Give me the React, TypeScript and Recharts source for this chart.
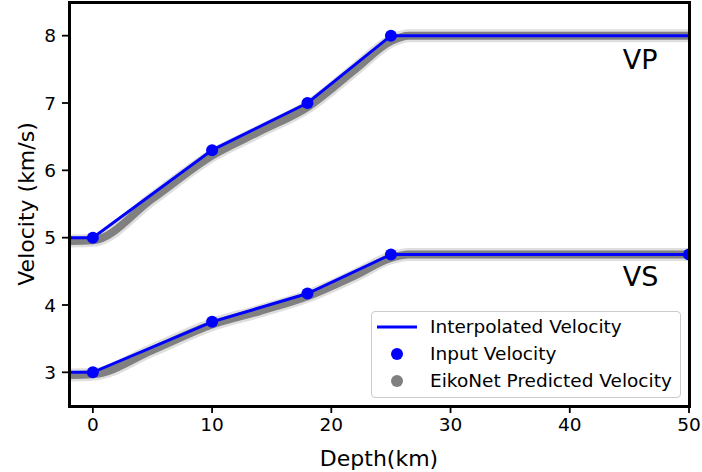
import {
  ComposedChart,
  Line,
  Scatter,
  XAxis,
  YAxis,
  ReferenceDot,
} from 'recharts';

// interpolated velocity model (depth in km, velocity in km/s)
const lineDepths = [-2, 0, 10, 18, 25, 50];
const vpLine = [5.0, 5.0, 6.3, 7.0, 8.0, 8.0];
const vsLine = [3.0, 3.0, 3.75, 4.17, 4.75, 4.75];

// input nodes
const vpInputDepths = [0, 10, 18, 25];
const vpInput = [5.0, 6.3, 7.0, 8.0];
const vsInputDepths = [0, 10, 18, 25, 50];
const vsInput = [3.0, 3.75, 4.17, 4.75, 4.75];

// EikoNet prediction (centre of the scatter cloud)
const predDepths = [-2, 0, 5, 10, 14, 18, 22, 25, 26.5, 50];
const vpPred = [4.95, 4.96, 5.58, 6.22, 6.58, 6.94, 7.5, 7.92, 8.0, 8.0];
const vsPred = [2.96, 2.97, 3.33, 3.71, 3.91, 4.13, 4.44, 4.7, 4.75, 4.75];

const xTicks = [0, 10, 20, 30, 40, 50];
const yTicks = [3, 4, 5, 6, 7, 8];

const FONT = '"DejaVu Sans", sans-serif';
const BLUE = '#0000ff';
const GRAY = '#808080';

const zip = (xs: number[], ys: number[]) => xs.map((d, i) => ({ depth: d, v: ys[i] }));

const vpLineData = zip(lineDepths, vpLine);
const vsLineData = zip(lineDepths, vsLine);
const vpInputData = zip(vpInputDepths, vpInput);
const vsInputData = zip(vsInputDepths, vsInput);
const vpPredData = zip(predDepths, vpPred);
const vsPredData = zip(predDepths, vsPred);

const M = { top: 2, right: 13, bottom: 0, left: 0 };
const Y_W = 69;
const X_H = 66;

function LegendBox() {
  const row = { display: 'flex', alignItems: 'center', height: 27 } as const;
  const icon = { width: 40, display: 'flex', justifyContent: 'center', marginRight: 13 } as const;
  return (
    <div
      style={{
        position: 'absolute',
        left: 371,
        top: 311,
        width: 310,
        height: 87,
        boxSizing: 'border-box',
        border: '1px solid #cccccc',
        borderRadius: 4,
        background: 'rgba(255,255,255,0.85)',
        padding: '1px 0 0 5px',
        fontFamily: FONT,
        fontSize: 18.5,
        color: '#000',
      }}
    >
      <div style={row}>
        <span style={icon}>
          <svg width={40} height={6}><line x1={0} y1={3} x2={40} y2={3} stroke={BLUE} strokeWidth={3} /></svg>
        </span>
        Interpolated Velocity
      </div>
      <div style={row}>
        <span style={icon}>
          <svg width={14} height={14}><circle cx={7} cy={7} r={6} fill={BLUE} /></svg>
        </span>
        Input Velocity
      </div>
      <div style={row}>
        <span style={icon}>
          <svg width={14} height={14}><circle cx={7} cy={7} r={6} fill={GRAY} /></svg>
        </span>
        EikoNet Predicted Velocity
      </div>
    </div>
  );
}

export default function App() {
  const plotW = 702 - Y_W - M.right;
  const plotH = 472 - M.top - X_H;
  return (
    <div style={{ position: 'absolute', left: 0, top: 0, width: 702, height: 472, background: '#fff' }}>
      <ComposedChart width={702} height={472} margin={M}>
        <XAxis
          type="number"
          dataKey="depth"
          domain={[-2, 50]}
          ticks={xTicks}
          allowDataOverflow
          axisLine={false}
          tickSize={7}
          tickMargin={5}
          tickLine={{ stroke: '#000', strokeWidth: 1.8 }}
          tick={{ fill: '#000', fontSize: 18.5, fontFamily: FONT }}
          height={X_H}
          label={{
            value: 'Depth(km)',
            position: 'insideBottom',
            offset: 6,
            fill: '#000',
            fontSize: 22,
            fontFamily: FONT,
          }}
        />
        <YAxis
          type="number"
          dataKey="v"
          domain={[2.5, 8.5]}
          ticks={yTicks}
          allowDataOverflow
          axisLine={false}
          width={Y_W}
          tickSize={7}
          tickMargin={6}
          tickLine={{ stroke: '#000', strokeWidth: 1.8 }}
          tick={{ fill: '#000', fontSize: 18.5, fontFamily: FONT }}
          label={{
            content: () => (
              <text
                x={26}
                y={M.top + plotH / 2}
                transform={`rotate(-90 26 ${M.top + plotH / 2})`}
                textAnchor="middle"
                dominantBaseline="central"
                fontSize={22}
                fontFamily={FONT}
                fill="#000"
              >
                Velocity (km/s)
              </text>
            ),
          }}
        />

        {/* predicted cloud: soft fringe + dense core */}
        <Line data={vpPredData} dataKey="v" type="monotone" stroke={GRAY} strokeWidth={13} strokeOpacity={0.25} dot={false} isAnimationActive={false} legendType="none" />
        <Line data={vsPredData} dataKey="v" type="monotone" stroke={GRAY} strokeWidth={13} strokeOpacity={0.25} dot={false} isAnimationActive={false} legendType="none" />
        <Line data={vpPredData} dataKey="v" type="monotone" stroke={GRAY} strokeWidth={8} dot={false} isAnimationActive={false} name="EikoNet Predicted Velocity" />
        <Line data={vsPredData} dataKey="v" type="monotone" stroke={GRAY} strokeWidth={8} dot={false} isAnimationActive={false} legendType="none" />

        <Line data={vpLineData} dataKey="v" type="linear" stroke={BLUE} strokeWidth={3} dot={false} isAnimationActive={false} name="Interpolated Velocity" />
        <Line data={vsLineData} dataKey="v" type="linear" stroke={BLUE} strokeWidth={3} dot={false} isAnimationActive={false} legendType="none" />

        <Scatter data={vpInputData} dataKey="v" fill={BLUE} shape={(p: any) => <circle cx={p.cx} cy={p.cy} r={6} fill={BLUE} />} isAnimationActive={false} name="Input Velocity" />
        <Scatter data={vsInputData} dataKey="v" fill={BLUE} shape={(p: any) => <circle cx={p.cx} cy={p.cy} r={6} fill={BLUE} />} isAnimationActive={false} legendType="none" />

        <ReferenceDot x={44.45} y={7.64} r={0} fill="none" stroke="none" label={{ value: 'VP', position: 'right', offset: 0, fontSize: 27, fontFamily: FONT, fill: '#000' }} />
        <ReferenceDot x={44.45} y={4.42} r={0} fill="none" stroke="none" label={{ value: 'VS', position: 'right', offset: 0, fontSize: 27, fontFamily: FONT, fill: '#000' }} />
      </ComposedChart>

      {/* axes frame */}
      <div
        style={{
          position: 'absolute',
          left: Y_W - 1.5,
          top: M.top - 1.5,
          width: plotW + 3,
          height: plotH + 3,
          boxSizing: 'border-box',
          border: '3px solid #000',
          pointerEvents: 'none',
        }}
      />
      <LegendBox />
    </div>
  );
}
